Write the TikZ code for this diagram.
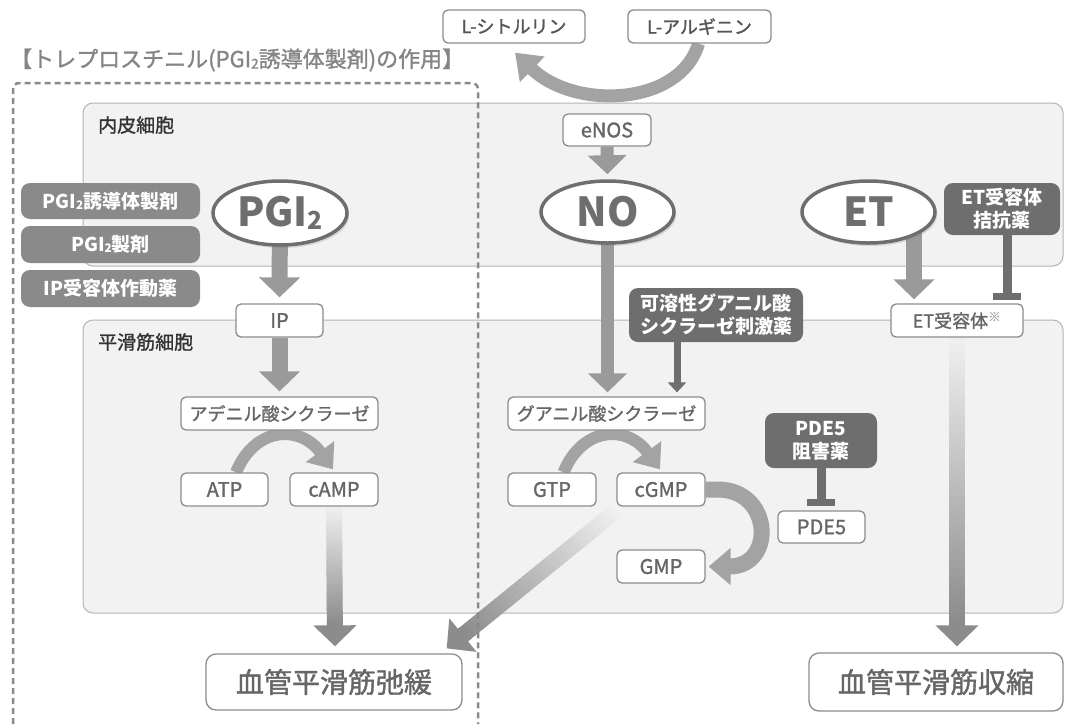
\documentclass[tikz,border=0pt]{standalone}
\usepackage{fontspec}
\setmainfont{Noto Sans CJK JP}
\newfontfamily\medfont[FakeBold=1.3]{Noto Sans CJK JP}
\newcommand{\subii}{\raisebox{-0.12ex}{\scalebox{0.62}{2}}}
\usetikzlibrary{arrows.meta,calc,shadows,shapes.geometric}
\pgfdeclarelayer{back}
\pgfdeclarelayer{mid}
\pgfsetlayers{back,mid,main}
\definecolor{panelfill}{HTML}{F2F2F2}
\definecolor{panelline}{HTML}{B4B4B4}
\definecolor{boxline}{HTML}{8C8C8C}
\definecolor{txt}{HTML}{666666}
\definecolor{labtxt}{HTML}{333333}
\definecolor{druglight}{HTML}{8A8A8A}
\definecolor{drugdark}{HTML}{6E6E6E}
\definecolor{arrowgray}{HTML}{9A9A9A}
\definecolor{curvegray}{HTML}{A3A3A3}
\definecolor{gdark}{HTML}{8C8C8C}
\definecolor{ellline}{HTML}{6E6E6E}
\definecolor{titlegray}{HTML}{858585}
\definecolor{dashgray}{HTML}{8A8A8A}
\definecolor{topbox}{HTML}{555555}
\begin{document}
\begin{tikzpicture}[x=1pt,y=-1pt,
  wbox/.style={draw=boxline, line width=1.3pt, fill=white, rounded corners=5pt, text=txt, inner sep=0pt, font=\medfont\fontsize{18}{20}\selectfont},
  latin/.style={font=\medfont\fontsize{20}{22}\selectfont},
  dbox/.style={fill=druglight, rounded corners=9pt, text=white, inner sep=0pt, font=\bfseries\fontsize{19}{23}\selectfont, align=center},
  ddbox/.style={dbox, fill=drugdark},
  bigbox/.style={wbox, font=\medfont\fontsize{28}{30}\selectfont, rounded corners=10pt},
  oval/.style={ellipse, draw=ellline, line width=3.5pt, fill=white, inner sep=0pt, text=ellline, font=\bfseries\fontsize{40}{40}\selectfont, drop shadow={opacity=0.25, shadow xshift=2pt, shadow yshift=-3pt}},
  panel/.style={draw=panelline, line width=1pt, fill=panelfill, rounded corners=10pt},
  panellabel/.style={anchor=west, inner sep=0pt, text=labtxt, font=\medfont\fontsize{19}{21}\selectfont},
  blockarrow/.style={draw=arrowgray, line width=16pt, -{Triangle[width=40pt,length=20pt]}},
  thinblock/.style={draw=arrowgray, line width=13pt, -{Triangle[width=38pt,length=19pt]}},
  curvearrow/.style={draw=curvegray, line width=12pt, -{Triangle[width=34pt,length=22pt]}},
  curvewide/.style={draw=curvegray, line width=16pt, -{Triangle[width=36pt,length=22pt]}},
  curvetop/.style={draw=curvegray, line width=13pt, -{Triangle[width=34pt,length=24pt]}},
  inhib/.style={draw=drugdark, line width=9pt},
  stim/.style={draw=drugdark, line width=7pt, -{Triangle[width=18pt,length=10pt]}},
  gseg/.style={line width=16pt},
  ghead/.style={draw=gdark, line width=16pt, -{Triangle[width=42pt,length=21pt]}},
]
\useasboundingbox (0,0) rectangle (1065,724);

\begin{pgfonlayer}{back}
\fill[white] (0,0) rectangle (1065,724);
\draw[panel] (83,103) rectangle (1063,266);
\draw[panel] (83,320) rectangle (1063,613);
\end{pgfonlayer}

% labels
\node[panellabel] (endo) at (98,125) {内皮細胞};
\node[panellabel] (smooth) at (98,342) {平滑筋細胞};
\node[anchor=west, inner sep=0pt, text=titlegray, font=\medfont\fontsize{22}{24}\selectfont] (title) at (10,60) {【トレプロスチニル(PGI\subii 誘導体製剤)の作用】};

% top boxes
\node[wbox, text=topbox, minimum width=142pt, minimum height=33pt] (cit) at (514,26.5) {L-シトルリン};
\node[wbox, text=topbox, minimum width=143pt, minimum height=33pt] (arg) at (699.5,26.5) {L-アルギニン};
\node[wbox, latin, minimum width=88pt, minimum height=32pt] (eNOS) at (607,130) {eNOS};

% ellipses
\node[oval, minimum width=134pt, minimum height=64pt] (PGI) at (280,213) {PGI\subii};
\node[oval, minimum width=133pt, minimum height=62pt] (NO) at (607.5,212) {NO};
\node[oval, minimum width=133pt, minimum height=62pt] (ET) at (868.5,212) {ET};

% drug boxes
\node[dbox, minimum width=179pt, minimum height=36pt] (d1) at (110.5,201) {PGI\subii 誘導体製剤};
\node[dbox, minimum width=179pt, minimum height=37pt] (d2) at (110.5,244.5) {PGI\subii 製剤};
\node[dbox, minimum width=179pt, minimum height=37pt] (d3) at (110.5,288.5) {IP受容体作動薬};
\node[ddbox, minimum width=116pt, minimum height=52pt] (ETant) at (1002,209) {ET受容体\\拮抗薬};
\node[ddbox, minimum width=174pt, minimum height=54pt] (sGCs) at (716,315) {可溶性グアニル酸\\シクラーゼ刺激薬};
\node[ddbox, minimum width=112pt, minimum height=55pt] (PDEi) at (821,440.5) {PDE5\\阻害薬};

% white boxes
\node[wbox, latin, minimum width=87pt, minimum height=33pt] (IP) at (279.5,320.5) {IP};
\node[wbox, minimum width=132pt, minimum height=33pt] (ETR) at (957,320.5) {ET受容体{\color{boxline!70}\textsuperscript{※}}};
\node[wbox, minimum width=197pt, minimum height=33pt] (AC) at (279.5,413.5) {アデニル酸シクラーゼ};
\node[wbox, minimum width=197pt, minimum height=33pt] (GC) at (606.5,413.5) {グアニル酸シクラーゼ};
\node[wbox, latin, minimum width=87pt, minimum height=33pt] (ATP) at (224.5,489.5) {ATP};
\node[wbox, latin, minimum width=88pt, minimum height=33pt] (cAMP) at (334,489.5) {cAMP};
\node[wbox, latin, minimum width=88pt, minimum height=33pt] (GTP) at (552,489.5) {GTP};
\node[wbox, latin, minimum width=88pt, minimum height=33pt] (cGMP) at (661,489.5) {cGMP};
\node[wbox, latin, minimum width=87pt, minimum height=32pt] (PDE) at (821.5,527) {PDE5};
\node[wbox, latin, minimum width=88pt, minimum height=33pt] (GMP) at (661,566.5) {GMP};
\node[bigbox, minimum width=256pt, minimum height=56pt] (relax) at (334,682) {血管平滑筋弛緩};
\node[bigbox, minimum width=254pt, minimum height=58pt] (contr) at (936,682) {血管平滑筋収縮};

% coordinates
\coordinate (etx) at (914,0);
\coordinate (stimx) at (677,0);
\coordinate (antx) at (1007,0);
\coordinate (etbar) at (1007,296.5);
\coordinate (pdebar) at (821,502.5);

\begin{pgfonlayer}{mid}
% block arrows
\draw[thinblock] (eNOS.south) -- ($(NO.north)+(0,-5)$);
\draw[blockarrow] (PGI.center) -- ($(IP.north)+(0,-6)$);
\draw[blockarrow] (IP.south) -- ($(AC.north)+(0,-5)$);
\draw[thinblock] (NO.center) -- ($(NO.center |- GC.north)+(0,-4)$);
\draw[blockarrow] (ET.center -| etx) -- ($(etx |- ETR.north)+(0,-4)$);
% stimulator / inhibitors
\draw[stim] (sGCs.south -| stimx) -- ($(stimx |- GC.north)+(0,-4)$);
\draw[inhib] (ETant.south -| antx) -- (etbar);
\fill[drugdark] ($(etbar)+(-14,-3.5)$) rectangle ($(etbar)+(14,3.5)$);
\draw[inhib] (PDEi.south) -- (pdebar);
\fill[drugdark] ($(pdebar)+(-14,-3.5)$) rectangle ($(pdebar)+(14,3.5)$);
% curved arrows
\draw[curvetop] ($(arg.south)+(-1,0)$) .. controls +(-18,62) and +(60,58) .. ($(cit.south)+(1,9)$);
\draw[curvearrow] ($(ATP.north)+(11.5,0)$) .. controls +(19,-46) and +(-33,-45) .. ($(cAMP.north)+(-1,-3)$);
\draw[curvearrow] ($(GTP.north)+(11.5,0)$) .. controls +(19,-46) and +(-33,-45) .. ($(cGMP.north)+(-1,-3)$);
\draw[curvewide] (cGMP.east) -- ++(12,0) .. controls +(55,0) and +(67,0) .. ($(GMP.east)+(3,0)$);
% gradient arrows
\coordinate (ga1) at (cAMP.south);
\coordinate (gt1) at ($(relax.north)+(1,-7)$);
\coordinate (ga2) at (ETR.south);
\coordinate (gt2) at ($(contr.north -| ETR.south)+(0,-6)$);
\coordinate (ga3) at ($(cGMP.south west)+(0,4)$);
\coordinate (gt3) at ($(relax.north east)+(-16,-5)$);
\foreach \a/\t in {ga1/gt1,ga2/gt2,ga3/gt3}{
  \coordinate (gb) at ($(\t)!21pt!(\a)$);
  \foreach \i in {0,...,39}{
    \pgfmathsetmacro\p{min(100,100*(\i+1)/40)}
    \draw[gseg, color=gdark!\p!panelfill] ($(\a)!{\i/40}!(gb)$) -- ($(\a)!{(\i+1.3)/40}!(gb)$);
  }
  \draw[ghead] ($(\t)!24pt!(\a)$) -- (\t);
}
\end{pgfonlayer}

% dashed frame
\draw[dashgray, line width=2.5pt, dash pattern=on 6pt off 4pt, rounded corners=6pt] (13,724) -- (13,83) -- (478,83) -- (478,724);
\end{tikzpicture}
\end{document}
